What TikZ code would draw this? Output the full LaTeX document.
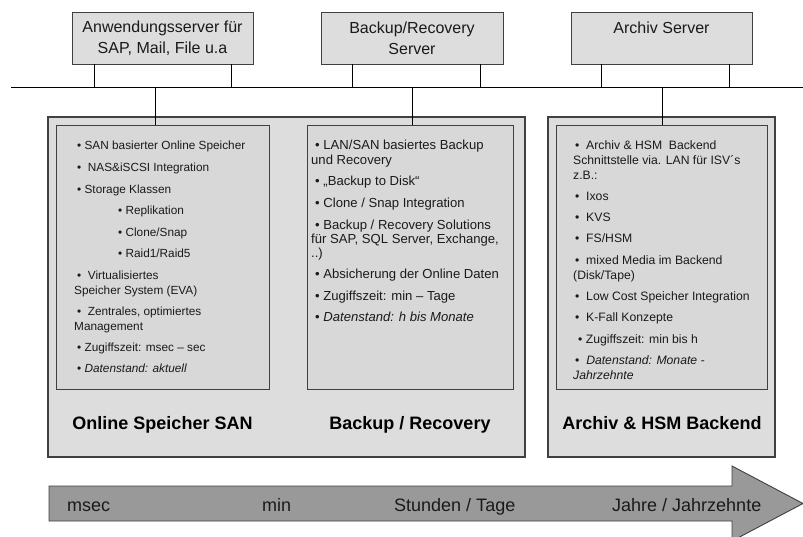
\documentclass[tikz,border=0pt]{standalone}
\usepackage{fontspec}
\setmainfont{Liberation Sans}
\definecolor{panel}{HTML}{DDDDDD}
\definecolor{inner}{HTML}{D8D8D8}
\definecolor{edge}{HTML}{404040}
\definecolor{arrowfill}{HTML}{999999}
\definecolor{txt}{HTML}{1A1A1A}
\tikzset{
  srv/.style={draw=edge, fill=panel, line width=0.9pt, minimum height=52pt, inner sep=0pt},
  panelbox/.style={draw=edge, fill=panel, line width=1.1pt, inner sep=0pt},
  listbox/.style={draw=edge, fill=inner, line width=1pt, inner sep=0pt},
  srvtext/.style={font=\fontsize{16}{21}\selectfont, align=center, inner sep=0pt, text=txt},
  itemA/.style={anchor=base west, inner sep=0pt, font=\fontsize{11.8}{14}\selectfont, text=txt},
  itemB/.style={anchor=base west, inner sep=0pt, font=\fontsize{13.1}{15}\selectfont, text=txt},
  itemC/.style={anchor=base west, inner sep=0pt, font=\fontsize{12.2}{15}\selectfont, text=txt},
  paneltitle/.style={anchor=base, inner sep=0pt, font=\fontsize{18}{22}\selectfont\bfseries},
  scaletext/.style={anchor=base west, inner sep=0pt, font=\fontsize{18}{22}\selectfont, text=txt},
  wire/.style={draw=black, line width=0.8pt},
}
\begin{document}
\begin{tikzpicture}[x=1pt, y=-1pt]
\useasboundingbox (0,0) rectangle (803,536);

% server boxes
\node[srv, minimum width=181pt] (s1) at (162.5,38) {};
\node[srv, minimum width=182pt] (s2) at (412,38) {};
\node[srv, minimum width=181pt] (s3) at (661.5,38) {};
\node[srvtext] (t1) at (162.5,38) {Anwendungsserver für\\SAP, Mail, File u.a};
\node[srvtext] (t2) at (412,38) {Backup/Recovery\\Server};
\node[srvtext, anchor=base] (t3) at (661.5,33) {Archiv Server};

% bus
\coordinate (busL) at (11,87);
\coordinate (busR) at (803,87);
\draw[wire] (busL) -- (busR);
\coordinate (j1) at (94,87);
\coordinate (j2) at (231,87);
\coordinate (j3) at (352,87);
\coordinate (j4) at (480,87);
\coordinate (j5) at (601,87);
\coordinate (j6) at (729,87);
\draw[wire] (s1.south -| j1) -- (j1);
\draw[wire] (s1.south -| j2) -- (j2);
\draw[wire] (s2.south -| j3) -- (j3);
\draw[wire] (s2.south -| j4) -- (j4);
\draw[wire] (s3.south -| j5) -- (j5);
\draw[wire] (s3.south -| j6) -- (j6);

% panels
\node[panelbox, minimum width=477pt, minimum height=340pt] (p1) at (286.5,287) {};
\node[panelbox, minimum width=227pt, minimum height=340pt] (p2) at (661.5,287) {};
\node[listbox, minimum width=213pt, minimum height=264pt] (ia) at (162.5,257) {};
\node[listbox, minimum width=206pt, minimum height=264pt] (ib) at (410,257) {};
\node[listbox, minimum width=211pt, minimum height=264pt] (ic) at (661.5,257) {};

\coordinate (d1) at (155,87);
\coordinate (d2) at (412,87);
\coordinate (d3) at (662,87);
\draw[wire] (d1) -- (d1 |- ia.north);
\draw[wire] (d2) -- (d2 |- ib.north);
\draw[wire] (d3) -- (d3 |- ic.north);

% list A
\node[itemA] (a1) at (77,149.3) {• SAN basierter Online Speicher};
\node[itemA] (a2) at (77,171.3) {•\ \ NAS\&iSCSI Integration};
\node[itemA] (a3) at (77,193.3) {• Storage Klassen};
\node[itemA] (a4) at (118,214.3) {• Replikation};
\node[itemA] (a5) at (118,236.3) {• Clone/Snap};
\node[itemA] (a6) at (118,257.3) {• Raid1/Raid5};
\node[itemA] (a7) at (77,279.3) {•\ \ Virtualisiertes};
\node[itemA] (a8) at (74,294.3) {Speicher System (EVA)};
\node[itemA] (a9) at (77,315.3) {•\ \ Zentrales, optimiertes};
\node[itemA] (a10) at (74,330.3) {Management};
\node[itemA] (a11) at (77,351.3) {• Zugiffszeit: msec – sec};
\node[itemA] (a12) at (77,372.3) {• \textit{Datenstand: aktuell}};

% list B
\node[itemB] (b1) at (315,149.3) {• LAN/SAN basiertes Backup};
\node[itemB] (b2) at (311,164.3) {und Recovery};
\node[itemB] (b3) at (315,185.3) {• „Backup to Disk“};
\node[itemB] (b4) at (315,207.3) {• Clone / Snap Integration};
\node[itemB] (b5) at (315,229.3) {• Backup / Recovery Solutions};
\node[itemB] (b6) at (311,243.3) {für SAP, SQL Server, Exchange,};
\node[itemB] (b7) at (311,257.3) {..)};
\node[itemB] (b8) at (315,278.3) {• Absicherung der Online Daten};
\node[itemB] (b9) at (315,300.3) {• Zugiffszeit: min – Tage};
\node[itemB] (b10) at (315,321.3) {• \textit{Datenstand: h bis Monate}};

% list C
\node[itemC] (c1) at (575,149.3) {•\ \ Archiv \& HSM\ \ Backend};
\node[itemC] (c2) at (573,164.3) {Schnittstelle via. LAN für ISV´s};
\node[itemC] (c3) at (573,179.3) {z.B.:};
\node[itemC] (c4) at (575,200.3) {•\ \ Ixos};
\node[itemC] (c5) at (575,221.3) {•\ \ KVS};
\node[itemC] (c6) at (575,242.3) {•\ \ FS/HSM};
\node[itemC] (c7) at (575,264.3) {•\ \ mixed Media im Backend};
\node[itemC] (c8) at (573,279.3) {(Disk/Tape)};
\node[itemC] (c9) at (575,300.3) {•\ \ Low Cost Speicher Integration};
\node[itemC] (c10) at (575,321.3) {•\ \ K-Fall Konzepte};
\node[itemC] (c11) at (578,343.3) {• Zugiffszeit: min bis h};
\node[itemC] (c12) at (575,364.3) {•\ \ \textit{Datenstand: Monate -}};
\node[itemC] (c13) at (573,379.3) {\textit{Jahrzehnte}};

% panel titles
\node[paneltitle] (h1) at (162.5,429.5) {Online Speicher SAN};
\node[paneltitle] (h2) at (410,429.5) {Backup / Recovery};
\node[paneltitle] (h3) at (662,429.5) {Archiv \& HSM Backend};

% time arrow
\path[draw=edge, fill=arrowfill, line width=0.9pt]
  (49,486) -- (732,486) -- (732,466) -- (803,503.5) -- (732,541) -- (732,521) -- (49,521) -- cycle;
\node[scaletext] (m1) at (67,511.5) {msec};
\node[scaletext] (m2) at (262,511.5) {min};
\node[scaletext] (m3) at (394,511.5) {Stunden / Tage};
\node[scaletext] (m4) at (612,511.5) {Jahre / Jahrzehnte};
\end{tikzpicture}
\end{document}
